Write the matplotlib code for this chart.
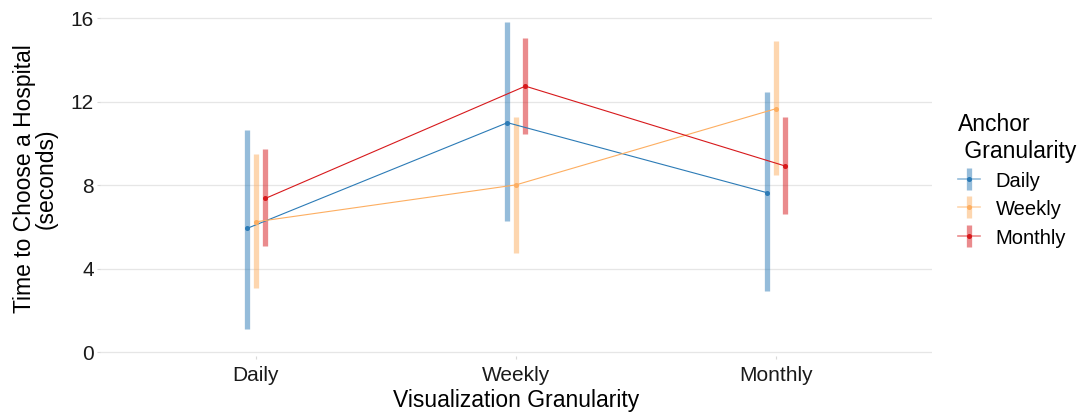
import numpy as np
import matplotlib.pyplot as plt
from matplotlib.lines import Line2D
from matplotlib.legend_handler import HandlerTuple

plt.rcParams["font.family"] = ["Liberation Sans", "DejaVu Sans"]

# data
vis_levels = ["Daily", "Weekly", "Monthly"]
anchors = ["Daily", "Weekly", "Monthly"]

mean_daily = [5.93, 10.99, 7.63]
low_daily = [1.12, 6.26, 2.92]
high_daily = [10.66, 15.81, 12.46]

mean_weekly = [6.24, 8.01, 11.66]
low_weekly = [3.05, 4.76, 8.46]
high_weekly = [9.49, 11.24, 14.90]

mean_monthly = [7.36, 12.74, 8.91]
low_monthly = [5.08, 10.43, 6.60]
high_monthly = [9.71, 15.07, 11.27]

colors = ["#2c7bb6", "#fdae61", "#d7191c"]

means = [mean_daily, mean_weekly, mean_monthly]
lows = [low_daily, low_weekly, low_monthly]
highs = [high_daily, high_weekly, high_monthly]

fig = plt.figure(figsize=(10.81, 4.15), dpi=100)
# panel: x 100..932 px, y 1..356 px
ax = fig.add_axes([100 / 1081, 1 - 356 / 415, 832 / 1081, 355 / 415])

x = np.arange(1, len(vis_levels) + 1)
dodge = [-0.033, 0.0, 0.036]

handles = []
for i, name in enumerate(anchors):
    xs = x + dodge[i]
    m = np.array(means[i])
    lo = np.array(lows[i])
    hi = np.array(highs[i])
    ax.vlines(xs, lo, hi, color=colors[i], alpha=0.5, lw=3.8, zorder=2)
    ax.plot(xs, m, color=colors[i], lw=0.8, marker="o", ms=2.6, zorder=3)
    # legend key: cross of error bar and line
    h_line = Line2D([], [], color=colors[i], lw=1.2, alpha=0.5)
    v_bar = Line2D([], [], color=colors[i], marker="|", ms=16, mew=3.8,
                   alpha=0.5, ls="none")
    dot = Line2D([], [], color=colors[i], marker="o", ms=2.6, ls="none")
    handles.append((h_line, v_bar, dot))

ax.set_xlim(0.4, 3.6)
ax.set_ylim(-0.19, 16.82)
ax.set_xticks(x)
ax.set_xticklabels(vis_levels)
ax.set_yticks([0, 4, 8, 12, 16])
ax.grid(axis="y", color="#e6e6e6", lw=0.9)
ax.set_axisbelow(True)
for s in ax.spines.values():
    s.set_visible(False)
ax.tick_params(length=2.5, width=0.8, color="#d9d9d9", labelsize=15,
               labelcolor="#1a1a1a", pad=2)
ax.tick_params(axis="x", pad=4.5)

ax.set_xlabel("Visualization Granularity", fontsize=16.5, labelpad=3)
ax.set_ylabel("Time to Choose a Hospital\n(seconds)", fontsize=16.5,
              labelpad=9, linespacing=0.95)

leg = ax.legend(handles, anchors, title="Anchor\n Granularity",
                handler_map={tuple: HandlerTuple(ndivide=1, pad=0)},
                loc="center left", bbox_to_anchor=(1.01, 0.495), frameon=False,
                fontsize=14.5, title_fontsize=16.5, handlelength=1.05,
                labelspacing=0.42, handletextpad=0.8, handleheight=1.0)
leg._legend_box.align = "left"

fig.savefig("out.png", dpi=100)
